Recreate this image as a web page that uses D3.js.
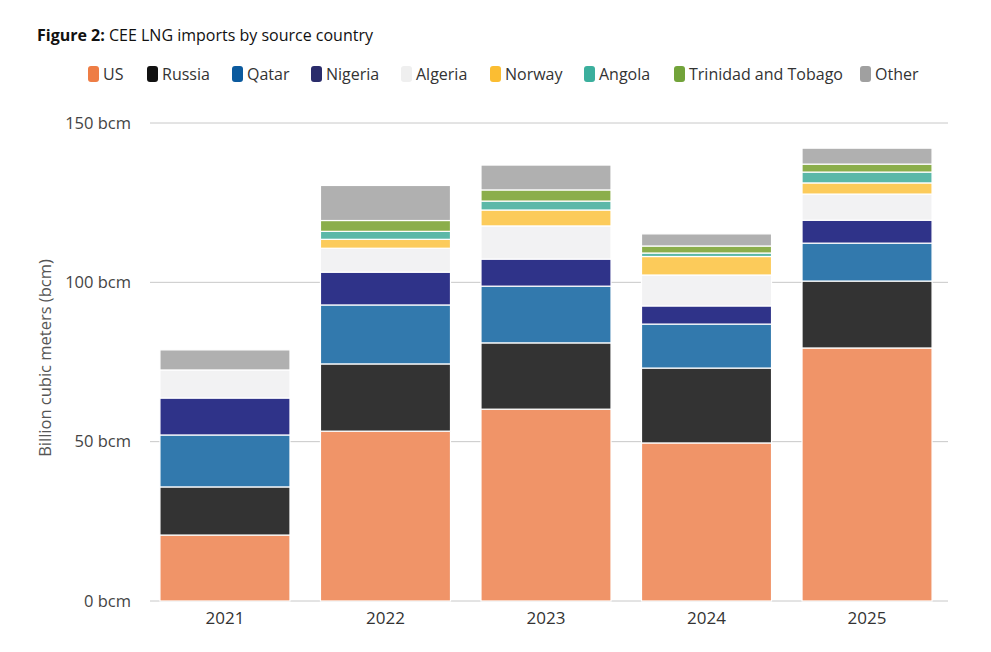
<!DOCTYPE html>
<html>
<head>
<meta charset="utf-8">
<script src="https://cdn.jsdelivr.net/npm/d3@7"></script>
<style>
  body { margin: 0; background: #fff; }
  svg text { font-family: "Open Sans", Lato, sans-serif; }
</style>
</head>
<body>
<div id="chart"></div>
<script>
// data (bcm)
const years = ["2021", "2022", "2023", "2024", "2025"];
const countries = ["US", "Russia", "Qatar", "Nigeria", "Algeria", "Norway", "Angola", "Trinidad and Tobago", "Other"];
const usVals = [20.7, 53.3, 60.2, 49.6, 79.4];
const russiaVals = [15.1, 21.1, 20.8, 23.5, 21.0];
const qatarVals = [16.3, 18.5, 17.8, 13.8, 11.9];
const nigeriaVals = [11.6, 10.3, 8.5, 5.7, 7.2];
const algeriaVals = [8.8, 7.5, 10.4, 9.7, 8.2];
const norwayVals = [0, 2.8, 5.0, 5.8, 3.5];
const angolaVals = [0, 2.5, 2.8, 1.1, 3.4];
const trinidadVals = [0, 3.4, 3.5, 2.2, 2.5];
const otherVals = [6.3, 11.0, 7.8, 3.8, 5.0];
const yTicks = [0, 50, 100, 150];

const seriesVals = [usVals, russiaVals, qatarVals, nigeriaVals, algeriaVals, norwayVals, angolaVals, trinidadVals, otherVals];

//colors
const barColors = ["#f09468", "#333333", "#3279ad", "#2f3389", "#f2f2f3", "#fccb5a", "#5bb8a8", "#8bae4b", "#b0b0b0"];
const legendColors = ["#ee7d45", "#111111", "#0b5a9e", "#2a2c6b", "#efefef", "#fbbd32", "#3baf9d", "#72a33a", "#a0a0a0"];

const width = 991, height = 652;

const $svg = d3.select("#chart")
    .append("svg")
    .attr("width", width)
    .attr("height", height);

// build table for the stack
const table = years.map((yr, i) => {
    const row = { year: yr };
    countries.forEach((c, j) => { row[c] = seriesVals[j][i]; });
    return row;
});
const stacked = d3.stack().keys(countries)(table);

const x = d3.scaleBand()
    .domain(years)
    .range([150, 942])
    .paddingInner(0.19)
    .paddingOuter(0.062);

const y = d3.scaleLinear()
    .domain([0, 150])
    .range([601, 123]);

// title
const title = $svg.append("text")
    .attr("x", 37)
    .attr("y", 41)
    .attr("font-size", 16)
    .attr("fill", "#111");
title.append("tspan").attr("font-weight", "bold").text("Figure 2:");
title.append("tspan").text(" CEE LNG imports by source country");

// legend
const legendX = [88, 147, 232, 311, 401, 490, 584, 674, 860];
const legend = $svg.append("g");
countries.forEach((c, i) => {
    const g = legend.append("g").attr("transform", `translate(${legendX[i]},66)`);
    g.append("rect")
        .attr("width", 11)
        .attr("height", 16)
        .attr("rx", 3)
        .attr("fill", legendColors[i]);
    g.append("text")
        .attr("x", 15)
        .attr("y", 14)
        .attr("font-size", 16)
        .attr("fill", "#333")
        .text(c);
});

// grid + y labels
const grid = $svg.append("g");
yTicks.forEach(t => {
    grid.append("line")
        .attr("x1", 150).attr("x2", 948)
        .attr("y1", y(t)).attr("y2", y(t))
        .attr("stroke", "#c8c8c8")
        .attr("stroke-width", 1);
    grid.append("text")
        .attr("x", 131)
        .attr("y", y(t))
        .attr("dy", "0.35em")
        .attr("text-anchor", "end")
        .attr("font-size", 16.5)
        .attr("fill", "#444")
        .text(`${t} bcm`);
});

// y axis title
$svg.append("text")
    .attr("transform", "translate(51,358) rotate(-90)")
    .attr("text-anchor", "middle")
    .attr("font-size", 16.5)
    .attr("fill", "#555")
    .text("Billion cubic meters (bcm)");

// bars
$svg.append("g")
    .selectAll("g")
    .data(stacked)
    .join("g")
    .attr("fill", (d, i) => barColors[i])
    .selectAll("rect")
    .data(d => d.filter(s => s[1] - s[0] > 0))
    .join("rect")
    .attr("x", d => x(d.data.year))
    .attr("width", x.bandwidth())
    .attr("y", d => y(d[1]))
    .attr("height", d => y(d[0]) - y(d[1]))
    .attr("stroke", "#fff")
    .attr("stroke-width", 1.2);

// x labels
$svg.append("g")
    .selectAll("text")
    .data(years)
    .join("text")
    .attr("x", d => x(d) + x.bandwidth() / 2)
    .attr("y", 624)
    .attr("text-anchor", "middle")
    .attr("font-size", 17)
    .attr("fill", "#333")
    .text(d => d);
</script>
</body>
</html>
